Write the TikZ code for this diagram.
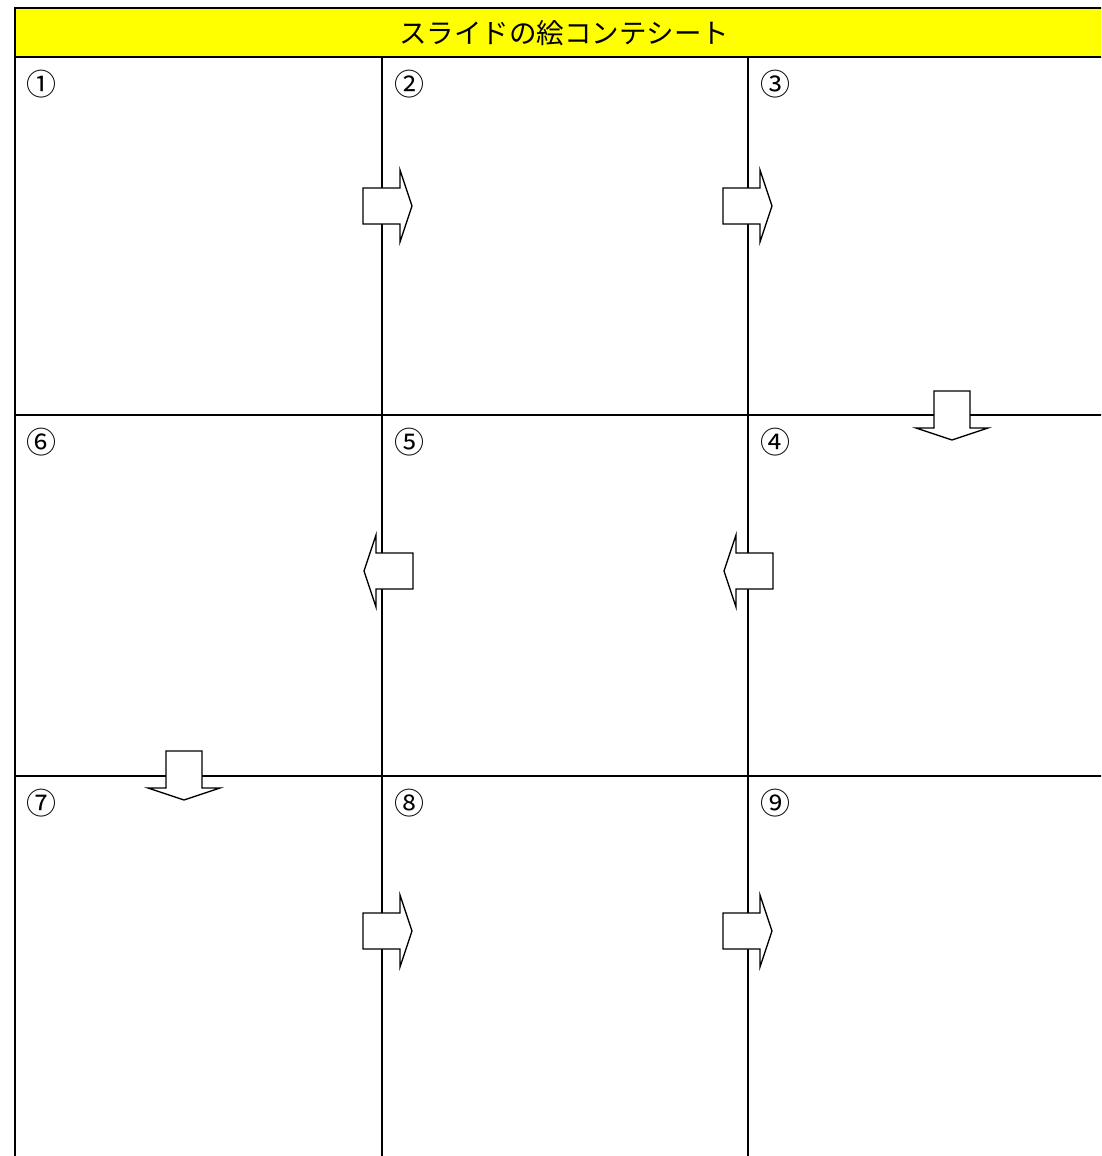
\documentclass[tikz,border=0pt]{standalone}
\usepackage{fontspec}
\newfontfamily\jpfont{Noto Sans CJK JP}
\definecolor{kiiro}{RGB}{255,255,0}
\begin{document}
\begin{tikzpicture}[x=1pt,y=-1pt,
	waku/.style={line width=1.8pt},
	midashi/.style={font=\jpfont\fontsize{27.5}{27.5}\selectfont,inner sep=0pt},
	bango/.style={font=\jpfont\fontsize{30}{30}\selectfont,inner sep=0pt},
	yajirushi/.style={draw,fill=white,line width=1.3pt,line join=miter},
	pics/yaji/.style={code={\draw[yajirushi] (0,-18) -- (37,-18) -- (37,-36) -- (49,0) -- (37,36) -- (37,18) -- (0,18) -- cycle;}}]
	\useasboundingbox (0,0) rectangle (1101,1156);
	\clip (0,0) rectangle (1101,1156);
	% header
	\draw[waku,fill=kiiro] (15,8) rectangle (1115,57);
	\node[midashi] (title) at (564,33) {スライドの絵コンテシート};
	% grid
	\draw[waku] (15,57) -- (15,1160);
	\draw[waku] (382,57) -- (382,1160);
	\draw[waku] (748,57) -- (748,1160);
	\draw[waku] (15,415) -- (1110,415);
	\draw[waku] (15,776) -- (1110,776);
	% numbers
	\node[bango] (n1) at (42,84) {①};
	\node[bango] (n2) at (409,84) {②};
	\node[bango] (n3) at (775,84) {③};
	\node[bango] (n6) at (42,442) {⑥};
	\node[bango] (n5) at (409,442) {⑤};
	\node[bango] (n4) at (775,442) {④};
	\node[bango] (n7) at (42,803) {⑦};
	\node[bango] (n8) at (409,803) {⑧};
	\node[bango] (n9) at (775,803) {⑨};
	% arrows
	\pic at (363,206) {yaji};
	\pic at (723,206) {yaji};
	\pic[rotate=-90] at (952,391) {yaji};
	\pic[rotate=180] at (773,571) {yaji};
	\pic[rotate=180] at (413,571) {yaji};
	\pic[rotate=-90] at (184,751) {yaji};
	\pic at (363,931) {yaji};
	\pic at (723,931) {yaji};
\end{tikzpicture}
\end{document}
